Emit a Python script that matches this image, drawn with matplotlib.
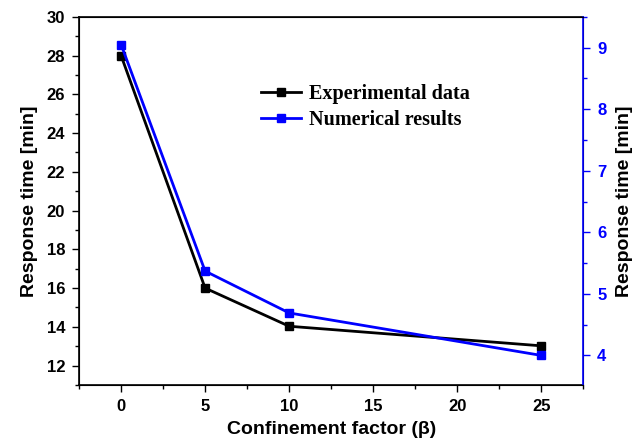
import matplotlib
matplotlib.use("Agg")
import matplotlib.pyplot as plt
from matplotlib.ticker import MultipleLocator

# Data
beta = [0, 5, 10, 25]
exp_time = [28.0, 16.0, 14.03, 13.02]    # left axis (min)
num_time = [9.05, 5.37, 4.69, 4.0]       # right axis (min)

plt.rcParams["font.family"] = "Liberation Sans"
plt.rcParams["font.weight"] = "bold"

fig = plt.figure(figsize=(6.43, 4.44), dpi=100)
ax = fig.add_axes([0.123, 0.133, 0.784, 0.829])
ax2 = ax.twinx()

l1, = ax.plot(beta, exp_time, color="black", lw=2, marker="s", ms=6, label="Experimental data")
l2, = ax2.plot(beta, num_time, color="blue", lw=2, marker="s", ms=6, label="Numerical results")

ax.set_xlim(-2.5, 27.5)
ax.set_ylim(11, 30)
ax2.set_ylim(3.52, 9.5)

ax.xaxis.set_major_locator(MultipleLocator(5))
ax.xaxis.set_minor_locator(MultipleLocator(2.5))
ax.yaxis.set_major_locator(MultipleLocator(2))
ax.yaxis.set_minor_locator(MultipleLocator(1))
ax2.yaxis.set_major_locator(MultipleLocator(1))
ax2.yaxis.set_minor_locator(MultipleLocator(0.5))

ax.tick_params(which="major", direction="out", length=5, width=1, labelsize=12, pad=5)
ax.tick_params(which="minor", direction="out", length=3, width=1)
ax.tick_params(top=False, right=False, which="both")
ax2.tick_params(which="major", direction="out", length=5, width=1, labelsize=12,
                colors="blue", pad=5)
ax2.tick_params(which="minor", direction="out", length=3, width=1, colors="blue")
ax2.spines["right"].set_color("blue")
ax2.spines["right"].set_linewidth(1.2)
for s in ["left", "bottom", "top"]:
    ax.spines[s].set_linewidth(1.2)

for lab in ax.get_xticklabels() + ax.get_yticklabels() + ax2.get_yticklabels():
    lab.set_fontweight("bold")

ax.set_xlabel("Confinement factor (β)", fontsize=14, fontweight="bold", labelpad=5)
ax.set_ylabel("Response time [min]", fontsize=14, fontweight="bold", labelpad=6)
ax2.set_ylabel("Response time [min]", fontsize=14, fontweight="bold", color="black",
               labelpad=7)

leg = ax.legend(handles=[l1, l2], loc="upper left", bbox_to_anchor=(0.345, 0.84),
                frameon=False, handlelength=2.0, handletextpad=0.4,
                labelspacing=0.3, borderaxespad=0,
                prop={"family": "Liberation Serif", "weight": "bold", "size": 14.5})

fig.savefig("out.png", dpi=100)
